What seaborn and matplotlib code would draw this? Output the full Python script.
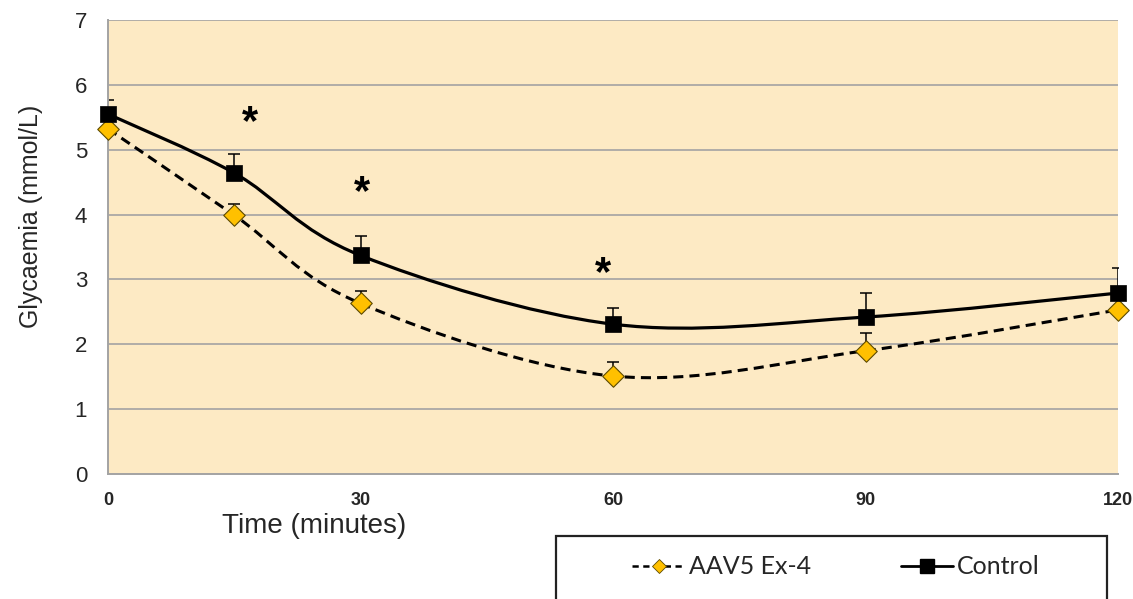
import numpy as np
import pandas as pd
import matplotlib
matplotlib.use('Agg')
import matplotlib.pyplot as plt
import seaborn as sns
from matplotlib.path import Path
from matplotlib.patches import PathPatch, Rectangle
from matplotlib.lines import Line2D
import matplotlib.transforms as mtransforms

# Data
time_min = [0, 15, 30, 60, 90, 120]
control = [5.55, 4.64, 3.37, 2.31, 2.42, 2.79]
control_err = [0.22, 0.30, 0.30, 0.25, 0.37, 0.38]
aav5 = [5.32, 3.99, 2.63, 1.51, 1.90, 2.53]
aav5_err = [0.0, 0.18, 0.19, 0.22, 0.27, 0.0]
star_time = [16.9, 30.2, 58.8]
star_level = [5.59, 4.51, 3.25]
x_ticks = [0, 30, 60, 90, 120]
y_ticks = [0, 1, 2, 3, 4, 5, 6, 7]

BG = '#FDEAC4'
GOLD = '#FFC000'
GRID = '#A3A3A3'

sns.set_style("white")
plt.rcParams['font.family'] = ['Liberation Sans', 'DejaVu Sans']


def smooth_path(x, y):
    """Excel-like smoothed line: cubic Bezier through every point"""
    pts = np.column_stack([x, y]).astype(float)
    n = len(pts)
    verts = [pts[0]]
    codes = [Path.MOVETO]
    for i in range(n - 1):
        p_prev = pts[i - 1] if i > 0 else pts[i]
        p_next = pts[i + 2] if i + 2 < n else pts[i + 1]
        c1 = pts[i] + (pts[i + 1] - p_prev) / 6.0
        c2 = pts[i + 1] - (p_next - pts[i]) / 6.0
        verts += [c1, c2, pts[i + 1]]
        codes += [Path.CURVE4] * 3
    return Path(verts, codes)


fig = plt.figure(figsize=(11.33, 5.99), dpi=100)
ax = fig.add_axes([108 / 1133, 1 - 474 / 599, 1010 / 1133, 454 / 599])
ax.set_facecolor(BG)

# grid
for yv in y_ticks[1:]:
    ax.axhline(yv, color=GRID, lw=1.2, zorder=0)

# error bars (upper only)
ax.errorbar(time_min, aav5, yerr=[np.zeros(len(aav5)), aav5_err], fmt='none',
            ecolor='black', elinewidth=1.1, capsize=4, capthick=1.1, zorder=2)
ax.errorbar(time_min, control, yerr=[np.zeros(len(control)), control_err], fmt='none',
            ecolor='black', elinewidth=1.1, capsize=4, capthick=1.1, zorder=2)

# smoothed lines
ax.add_patch(PathPatch(smooth_path(time_min, aav5), fill=False, edgecolor='black',
                       lw=2.2, linestyle=(0, (3.3, 2.0)), zorder=3))
ax.add_patch(PathPatch(smooth_path(time_min, control), fill=False, edgecolor='black',
                       lw=2.3, zorder=3))

df = pd.DataFrame({'time': time_min, 'control': control, 'aav5': aav5})
sns.scatterplot(data=df, x='time', y='aav5', marker='D', s=120, color=GOLD,
                edgecolor='#5C4A00', linewidth=0.8, clip_on=False, zorder=4, ax=ax)
sns.scatterplot(data=df, x='time', y='control', marker='s', s=140, color='black',
                edgecolor='black', linewidth=0.5, clip_on=False, zorder=5, ax=ax)

# significance marks
off = mtransforms.offset_copy(ax.transData, fig=fig, x=0, y=-16, units='points')
for tx, ty in zip(star_time, star_level):
    ax.text(tx, ty, '*', transform=off, ha='center', va='baseline',
            fontsize=30, fontweight='bold', color='black')

# axes
ax.set_xlim(0, 120)
ax.set_ylim(0, 7)
ax.set_xticks(x_ticks)
ax.set_yticks(y_ticks)
for s in ['top', 'right']:
    ax.spines[s].set_visible(False)
for s in ['left', 'bottom']:
    ax.spines[s].set_color(GRID)
    ax.spines[s].set_linewidth(1.4)
ax.tick_params(axis='y', direction='out', length=6, width=1.4, color=GRID,
               labelsize=16, pad=9)
ax.tick_params(axis='x', direction='out', length=5, width=1.4, color=GRID,
               labelsize=13, pad=8)
for lab in ax.get_xticklabels():
    lab.set_fontweight('bold')

ax.set_xlabel('Time (minutes)', fontsize=20)
ax.xaxis.set_label_coords(0.204, -0.085)
ax.set_ylabel('Glycaemia (mmol/L)', fontsize=18)
ax.yaxis.set_label_coords(-0.064, 0.568)

# legend box below the plot, running off the bottom edge
fig.patches.append(Rectangle((556 / 1133, -0.1), 551 / 1133, 0.1 + 1 - 536 / 599,
                             transform=fig.transFigure, fill=False,
                             edgecolor='#222222', lw=1.6))
handles = [
    Line2D([], [], color='black', lw=1.8, linestyle=(0, (2.5, 1.8)), marker='D',
           markersize=7, markerfacecolor=GOLD, markeredgecolor='#5C4A00',
           markeredgewidth=0.6),
    Line2D([], [], color='black', lw=2.0, marker='s', markersize=10,
           markerfacecolor='black', markeredgecolor='black'),
]
fig.legend(handles, ['AAV5 Ex-4', 'Control'], loc='center',
           bbox_to_anchor=(836 / 1133, 1 - 567 / 599), ncol=2, frameon=False,
           prop={'family': 'Lato', 'size': 18}, handlelength=2.1,
           handletextpad=0.15, columnspacing=3.6)

plt.savefig('out.png', dpi=100, facecolor='white')
plt.close()
